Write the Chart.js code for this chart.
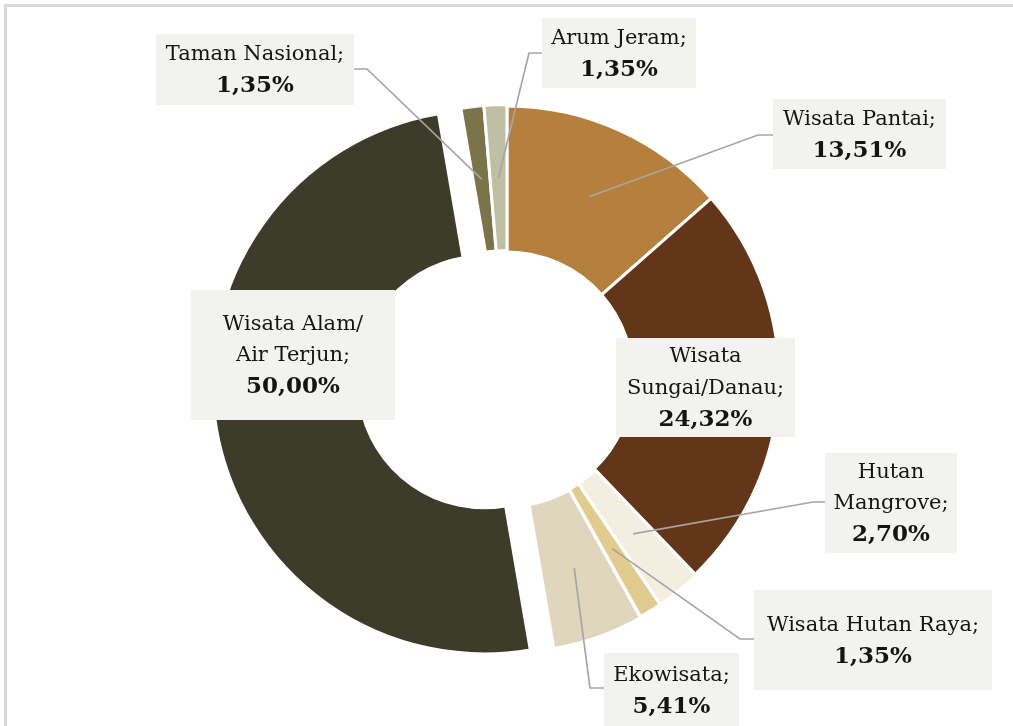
<!DOCTYPE html>
<html><head><meta charset="utf-8">
<script src="https://cdn.jsdelivr.net/npm/chart.js@4.4.1/dist/chart.umd.min.js"></script>
<style>html,body{margin:0;padding:0;background:#fff;overflow:hidden}canvas{display:block}</style>
</head><body>
<canvas id="c" width="1013" height="726"></canvas>
<script>
// ---- data ----
const categories = ['Wisata Pantai','Wisata Sungai/Danau','Hutan Mangrove','Wisata Hutan Raya','Ekowisata','Wisata Alam/Air Terjun','Taman Nasional','Arum Jeram'];
const shares = [13.51, 24.32, 2.70, 1.35, 5.41, 50.00, 1.35, 1.35];
const labelLines = [['Wisata Pantai;'],['Wisata','Sungai/Danau;'],['Hutan','Mangrove;'],['Wisata Hutan Raya;'],['Ekowisata;'],['Wisata Alam/','Air Terjun;'],['Taman Nasional;'],['Arum Jeram;']];

// ---- styles / layout ----
const colors = ['#B5803D','#63361A','#F4EEE1','#E2CB8F','#DFD6BD','#3D3C2A','#7B7349','#BFBFA4'];
const explode = [0, 0, 1.5, 1.5, 2.5, 23, 1.5, 1.5];   // pixel shift of exploded slices
const boxes = [
  {x:773, y:99,  w:173, h:70,  leader:{side:'left',  y:135, elbow:758}},
  {x:616, y:338, w:179, h:99},
  {x:825, y:453, w:132, h:100, leader:{side:'left',  y:502, elbow:813}},
  {x:754, y:590, w:238, h:100, leader:{side:'left',  y:639, elbow:740}},
  {x:604, y:653, w:135, h:75,  leader:{side:'left',  y:688, elbow:590}},
  {x:191, y:290, w:204, h:130},
  {x:156, y:34,  w:198, h:71,  leader:{side:'right', y:69,  elbow:367}},
  {x:542, y:18,  w:154, h:70,  leader:{side:'left',  y:53,  elbow:529}}
];
const FONT = '"DejaVu Serif", "Liberation Serif", serif';
const FS = 21, FSB = 23, LH = 31.5;

const fmt = v => v.toFixed(2).replace('.', ',') + '%';
const shiftOf = (arc, i) => {
  const mid = (arc.startAngle + arc.endAngle) / 2;
  return {dx: Math.cos(mid) * explode[i], dy: Math.sin(mid) * explode[i]};
};

const framePlugin = {
  id: 'frame',
  beforeDraw(chart) {
    const ctx = chart.ctx;
    ctx.save();
    ctx.fillStyle = '#fff';
    ctx.fillRect(0, 0, chart.width, chart.height);
    ctx.fillStyle = '#D9D9D9';
    ctx.fillRect(4, 4, chart.width - 4, 3);
    ctx.fillRect(4, 4, 3, chart.height - 4);
    ctx.restore();
  }
};

const explodePlugin = {
  id: 'explode',
  beforeDatasetDraw(chart, args) {
    const ctx = chart.ctx;
    args.meta.data.forEach((arc, i) => {
      const s = shiftOf(arc, i);
      ctx.save();
      ctx.translate(s.dx, s.dy);
      arc.draw(ctx, chart.chartArea);
      ctx.restore();
    });
    return false;
  }
};

const labelPlugin = {
  id: 'labels',
  afterDatasetsDraw(chart) {
    const ctx = chart.ctx;
    const meta = chart.getDatasetMeta(0);
    ctx.save();
    ctx.strokeStyle = '#A6A6A6';
    ctx.lineWidth = 1.7;
    meta.data.forEach((arc, i) => {
      const b = boxes[i];
      if (!b.leader) return;
      const p = arc.tooltipPosition();
      const s = shiftOf(arc, i);
      const ex = b.leader.side === 'left' ? b.x : b.x + b.w;
      ctx.beginPath();
      ctx.moveTo(ex, b.leader.y);
      ctx.lineTo(b.leader.elbow, b.leader.y);
      ctx.lineTo(p.x + s.dx, p.y + s.dy);
      ctx.stroke();
    });
    meta.data.forEach((arc, i) => {
      const b = boxes[i];
      ctx.fillStyle = '#F2F2EE';
      ctx.fillRect(b.x, b.y, b.w, b.h);
      const lines = labelLines[i].map(t => ({t, bold:false})).concat([{t: fmt(shares[i]), bold:true}]);
      const cx = b.x + b.w / 2;
      const cy = b.y + b.h / 2 + 1;
      const y0 = cy - (lines.length - 1) * LH / 2;
      ctx.fillStyle = '#141414';
      ctx.textAlign = 'center';
      ctx.textBaseline = 'middle';
      lines.forEach((ln, k) => {
        ctx.font = ln.bold ? ('bold ' + FSB + 'px ' + FONT) : (FS + 'px ' + FONT);
        ctx.fillText(ln.t, cx, y0 + k * LH);
      });
    });
    ctx.restore();
  }
};

new Chart(document.getElementById('c'), {
  type: 'doughnut',
  data: {
    labels: categories,
    datasets: [{
      data: shares,
      backgroundColor: colors,
      borderColor: '#FFFFFF',
      borderWidth: 3,
      offset: 0
    }]
  },
  options: {
    responsive: false,
    animation: false,
    radius: 272,
    cutout: '46.3%',
    layout: { padding: { left: 1, right: 0, top: 30, bottom: 0 } },
    plugins: { legend: { display: false }, tooltip: { enabled: false } }
  },
  plugins: [framePlugin, explodePlugin, labelPlugin]
});
</script>
</body></html>
